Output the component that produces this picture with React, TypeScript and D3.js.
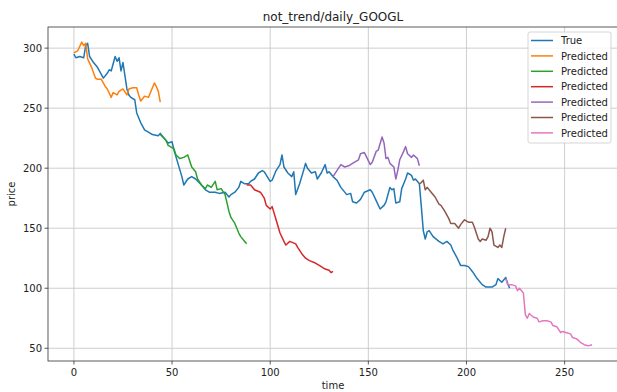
import React from 'react';
import { scaleLinear, line } from 'd3';

// time / value pairs
const trueT = [0, 1, 3, 5, 6, 7, 8, 10, 12, 15, 17, 18, 19, 21, 22, 23, 24, 25, 27, 28, 29, 31, 32, 34, 36, 39, 40, 43, 44, 48, 50, 51, 53, 55, 56, 58, 60, 62, 65, 67, 69, 72, 74, 77, 79, 80, 82, 84, 85, 87, 89, 90, 92, 94, 96, 97, 100, 101, 103, 105, 106, 107, 109, 111, 112, 113, 115, 117, 118, 119, 121, 123, 124, 126, 128, 129, 130, 132, 134, 136, 139, 141, 142, 144, 146, 148, 151, 152, 154, 156, 158, 159, 161, 162, 163, 164, 166, 167, 169, 170, 172, 173, 174, 176, 177, 178, 179, 180, 181, 183, 186, 188, 190, 192, 193, 195, 197, 199, 201, 203, 205, 208, 210, 213, 215, 216, 218, 220, 221, 222];
const trueV = [295, 292, 293, 292, 302, 304, 293, 288, 284, 275, 279, 282, 281, 293, 289, 292, 281, 288, 266, 261, 259, 257, 246, 238, 232, 229, 228, 227, 229, 221, 222, 215, 204, 193, 186, 191, 193, 191, 186, 182, 180, 180, 179, 180, 176, 178, 180, 184, 189, 187, 187, 189, 191, 196, 198, 197, 189, 190, 198, 203, 211, 201, 196, 193, 197, 178, 187, 198, 204, 200, 196, 197, 191, 196, 203, 196, 197, 193, 190, 184, 178, 179, 172, 171, 174, 180, 182, 180, 173, 166, 169, 172, 184, 182, 183, 171, 172, 183, 191, 196, 194, 190, 191, 187, 168, 148, 141, 147, 148, 143, 139, 137, 139, 136, 132, 126, 119, 119, 118, 114, 109, 103, 101, 101, 103, 108, 105, 109, 104, 100];

const predT = [
  [0, 2, 4, 5, 6, 7, 9, 11, 12, 14, 16, 17, 19, 20, 22, 23, 25, 27, 28, 30, 32, 33, 34, 36, 38, 39, 41, 42, 43, 44],
  [44, 47, 48, 51, 52, 54, 56, 58, 60, 62, 63, 65, 67, 68, 70, 72, 73, 75, 77, 79, 80, 82, 84, 85, 87, 88],
  [88, 90, 92, 95, 97, 98, 100, 101, 103, 105, 107, 108, 110, 113, 114, 116, 118, 120, 123, 125, 128, 130, 131, 132],
  [132, 134, 136, 138, 140, 141, 143, 145, 146, 148, 151, 152, 154, 155, 157, 158, 159, 160, 161, 163, 164, 165, 166, 168, 169, 170, 172, 173, 175, 176],
  [176, 177, 178, 179, 180, 182, 184, 186, 187, 189, 191, 192, 194, 196, 197, 199, 201, 203, 204, 206, 207, 208, 210, 211, 212, 213, 214, 216, 217, 218, 219, 220],
  [220, 221, 223, 225, 226, 227, 229, 230, 231, 232, 234, 236, 237, 239, 241, 243, 244, 246, 248, 249, 251, 253, 254, 256, 258, 260, 261, 262, 264]
];
const predV = [
  [296, 298, 305, 302, 304, 291, 284, 275, 274, 274, 268, 266, 259, 263, 261, 264, 266, 261, 266, 267, 267, 261, 256, 260, 259, 263, 271, 268, 264, 255],
  [228, 223, 219, 216, 211, 208, 209, 211, 201, 197, 191, 186, 183, 186, 184, 189, 182, 183, 178, 164, 159, 154, 146, 143, 139, 137],
  [186, 186, 182, 180, 175, 169, 166, 168, 157, 146, 139, 136, 139, 137, 134, 129, 125, 123, 121, 119, 116, 115, 113, 114],
  [193, 198, 203, 201, 202, 203, 205, 207, 212, 213, 203, 205, 214, 215, 226, 221, 208, 209, 204, 201, 191, 198, 207, 214, 218, 212, 209, 211, 208, 202],
  [187, 188, 190, 182, 184, 180, 176, 170, 169, 164, 158, 154, 154, 150, 153, 157, 155, 155, 151, 141, 139, 141, 140, 143, 150, 147, 136, 134, 136, 134, 143, 150],
  [108, 103, 103, 102, 98, 100, 96, 78, 75, 79, 76, 75, 72, 73, 73, 72, 69, 68, 63, 64, 63, 62, 59, 58, 55, 53, 52.5, 52, 53]
];

const xTicks = [0, 50, 100, 150, 200, 250];
const yTicks = [50, 100, 150, 200, 250, 300];
const legendLabels = ['True', 'Predicted', 'Predicted', 'Predicted', 'Predicted', 'Predicted', 'Predicted'];
const colors = ['#1f77b4', '#ff7f0e', '#2ca02c', '#d62728', '#9467bd', '#8c564b', '#e377c2'];

const W = 617;
const H = 392;
const plot = { left: 48, right: 618, top: 27, bottom: 361 };

export default function App() {
  const x = scaleLinear().domain([-13.2, 277.2]).range([plot.left, plot.right]);
  const y = scaleLinear().domain([39.4, 317.6]).range([plot.bottom, plot.top]);

  const path = line<[number, number]>()
    .x(d => x(d[0]))
    .y(d => y(d[1]));

  const series = [
    trueT.map((t, i) => [t, trueV[i]] as [number, number]),
    ...predT.map((ts, k) => ts.map((t, i) => [t, predV[k][i]] as [number, number]))
  ];

  const font = 'DejaVu Sans, sans-serif';

  return (
    <div style={{ position: 'fixed', left: 0, top: 0 }}>
      <svg width={W} height={H} style={{ display: 'block', background: '#fff' }} fontFamily={font}>
        {/* grid */}
        {xTicks.map(t => (
          <line key={'gx' + t} x1={x(t)} x2={x(t)} y1={plot.top} y2={plot.bottom} stroke="#c8c8c8" strokeWidth={0.9} />
        ))}
        {yTicks.map(t => (
          <line key={'gy' + t} x1={plot.left} x2={plot.right} y1={y(t)} y2={y(t)} stroke="#c8c8c8" strokeWidth={0.9} />
        ))}

        {/* lines */}
        {series.map((s, i) => (
          <path key={'s' + i} d={path(s) || ''} fill="none" stroke={colors[i]} strokeWidth={1.5} strokeLinejoin="round" />
        ))}

        {/* frame */}
        <rect x={plot.left} y={plot.top} width={plot.right - plot.left} height={plot.bottom - plot.top} fill="none" stroke="#333" strokeWidth={0.8} />

        {/* ticks */}
        {xTicks.map(t => (
          <g key={'tx' + t}>
            <line x1={x(t)} x2={x(t)} y1={plot.bottom} y2={plot.bottom + 3.5} stroke="#333" strokeWidth={0.8} />
            <text x={x(t)} y={plot.bottom + 15} textAnchor="middle" fontSize={10} fill="#222">{t}</text>
          </g>
        ))}
        {yTicks.map(t => (
          <g key={'ty' + t}>
            <line x1={plot.left - 3.5} x2={plot.left} y1={y(t)} y2={y(t)} stroke="#333" strokeWidth={0.8} />
            <text x={plot.left - 6} y={y(t) + 3.5} textAnchor="end" fontSize={10} fill="#222">{t}</text>
          </g>
        ))}

        {/* labels */}
        <text x={(plot.left + plot.right) / 2} y={21} textAnchor="middle" fontSize={12} fill="#222">not_trend/daily_GOOGL</text>
        <text x={(plot.left + plot.right) / 2} y={389} textAnchor="middle" fontSize={10} fill="#222">time</text>
        <text transform={`translate(15, ${(plot.top + plot.bottom) / 2}) rotate(-90)`} textAnchor="middle" fontSize={10} fill="#222">price</text>

        {/* legend */}
        <rect x={528} y={32} width={83} height={111} rx={2} fill="#fff" fillOpacity={0.8} stroke="#cccccc" strokeWidth={0.8} />
        {legendLabels.map((lab, i) => (
          <g key={'lg' + i}>
            <line x1={531} x2={553} y1={40.5 + i * 15.4} y2={40.5 + i * 15.4} stroke={colors[i]} strokeWidth={1.5} />
            <text x={561} y={40.5 + i * 15.4 + 3.6} fontSize={10} fill="#222">{lab}</text>
          </g>
        ))}
      </svg>
    </div>
  );
}
